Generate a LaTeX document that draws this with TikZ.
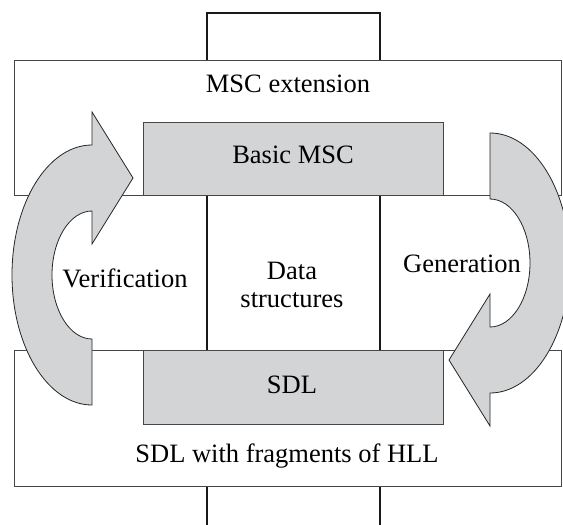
\documentclass[tikz,border=0pt]{standalone}
\usepackage{fontspec}
\setmainfont{Liberation Serif}
\definecolor{coregray}{RGB}{211,212,214}
\definecolor{edgegray}{RGB}{70,70,70}
\begin{document}
\begin{tikzpicture}[x=1pt,y=-1pt,
  box/.style={draw=edgegray, line width=1.1pt, fill=white, inner sep=0pt, anchor=north west},
  core/.style={box, fill=coregray},
  lbl/.style={anchor=base, inner sep=0pt, font=\fontsize{26.5}{28}\selectfont},
  loop/.style={draw=black!85, line width=0.8pt, fill=coregray, line join=miter}]
\useasboundingbox (0,0) rectangle (563,525);

% central column running through all layers
\node[draw=black!90, line width=1.6pt, inner sep=0pt, anchor=north west,
      minimum width=173pt, minimum height=560pt] (column) at (206,12) {};

% layered boxes
\node[box,  minimum width=547pt, minimum height=135pt] (mscext) at (14,60) {};
\node[core, minimum width=300pt, minimum height=73pt]  (basic)  at (143,122) {};
\node[box,  minimum width=547pt, minimum height=136pt] (sdlhll) at (14,350) {};
\node[core, minimum width=300pt, minimum height=74pt]  (sdl)    at (143,350) {};

% curved arrow: verification (upwards, left side)
\draw[loop] (92,145) arc[start angle=270, end angle=90, x radius=80, y radius=130]
  -- (92,339) arc[start angle=90, end angle=270, x radius=40, y radius=64]
  -- (92,244) -- (133,178) -- (92,112) -- cycle;

% curved arrow: generation (downwards, right side)
\begin{scope}[rotate around={180:(291,269)}]
\draw[loop] (92,145) arc[start angle=270, end angle=90, x radius=80, y radius=130]
  -- (92,339) arc[start angle=90, end angle=270, x radius=40, y radius=64]
  -- (92,244) -- (133,178) -- (92,112) -- cycle;
\end{scope}

% labels
\node[lbl] (tmscext) at (288,92)  {MSC extension};
\node[lbl] (tbasic)  at (293,163) {Basic MSC};
\node[lbl] (tverif)  at (125,287) {Verification};
\node[lbl] (tdata1)  at (292,279) {Data};
\node[lbl] (tdata2)  at (292,307) {structures};
\node[lbl] (tgen)    at (462,272) {Generation};
\node[lbl] (tsdl)    at (292,393) {SDL};
\node[lbl] (tsdlhll) at (287,462) {SDL with fragments of HLL};
\end{tikzpicture}
\end{document}
